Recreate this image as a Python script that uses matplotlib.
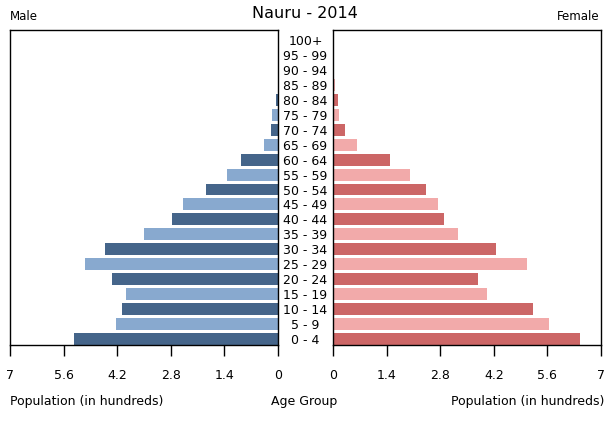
import numpy as np
import matplotlib
matplotlib.use('Agg')
import matplotlib.pyplot as plt

# age groups, bottom to top
age_groups = ['0 - 4', '5 - 9', '10 - 14', '15 - 19', '20 - 24', '25 - 29',
              '30 - 34', '35 - 39', '40 - 44', '45 - 49', '50 - 54', '55 - 59',
              '60 - 64', '65 - 69', '70 - 74', '75 - 79', '80 - 84', '85 - 89',
              '90 - 94', '95 - 99', '100+']

# population in hundreds
male = [5.33, 4.23, 4.07, 3.97, 4.34, 5.04, 4.52, 3.50, 2.77, 2.48, 1.88,
        1.33, 0.97, 0.37, 0.18, 0.16, 0.05, 0.01, 0.0, 0.0, 0.0]
female = [6.44, 5.64, 5.22, 4.01, 3.78, 5.06, 4.25, 3.26, 2.89, 2.73, 2.42,
          2.00, 1.48, 0.62, 0.31, 0.15, 0.12, 0.06, 0.0, 0.0, 0.0]

ticks = [0, 1.4, 2.8, 4.2, 5.6, 7]
tick_labels = ['0', '1.4', '2.8', '4.2', '5.6', '7']

male_colors = ['#45658a', '#88a9cf']
female_colors = ['#cc6666', '#f2aaaa']

fig = plt.figure(figsize=(6.1, 4.25), dpi=100)
ax_m = fig.add_axes([10 / 610, 1 - 345 / 425, 268 / 610, 315 / 425])
ax_f = fig.add_axes([333 / 610, 1 - 345 / 425, 268 / 610, 315 / 425])

y = np.arange(len(age_groups))
mc = [male_colors[i % 2] for i in y]
fc = [female_colors[i % 2] for i in y]

ax_m.barh(y, male, height=0.8, color=mc, zorder=2)
ax_f.barh(y, female, height=0.8, color=fc, zorder=2)

for ax in (ax_m, ax_f):
    ax.set_ylim(-0.4, 20.67)
    ax.set_xlim(0, 7)
    ax.set_yticks([])
    ax.set_xticks(ticks)
    ax.set_xticklabels(tick_labels)
    ax.tick_params(axis='x', direction='out', length=8, width=1,
                   labelsize=9, pad=9)
    for s in ax.spines.values():
        s.set_linewidth(1)
ax_m.invert_xaxis()

# age labels in the gap (a pixel below the bar centre, like the original)
for i, lab in enumerate(age_groups):
    yy = ax_m.transData.transform((0, i))[1] - 1.5
    fig.text(305.5 / 610, yy / (4.25 * 100), lab, ha='center', va='center',
             fontsize=9)

fig.text(305 / 610, 1 - 14 / 425, 'Nauru - 2014', ha='center', va='center',
         fontsize=11.5)
fig.text(10 / 610, 1 - 16 / 425, 'Male', ha='left', va='center', fontsize=8.5)
fig.text(600 / 610, 1 - 16 / 425, 'Female', ha='right', va='center',
         fontsize=8.5)
fig.text(10 / 610, 1 - 401 / 425, 'Population (in hundreds)', ha='left',
         va='center', fontsize=9)
fig.text(304 / 610, 1 - 401 / 425, 'Age Group', ha='center', va='center',
         fontsize=9)
fig.text(604 / 610, 1 - 401 / 425, 'Population (in hundreds)', ha='right',
         va='center', fontsize=9)

fig.savefig('out.png', dpi=100)
